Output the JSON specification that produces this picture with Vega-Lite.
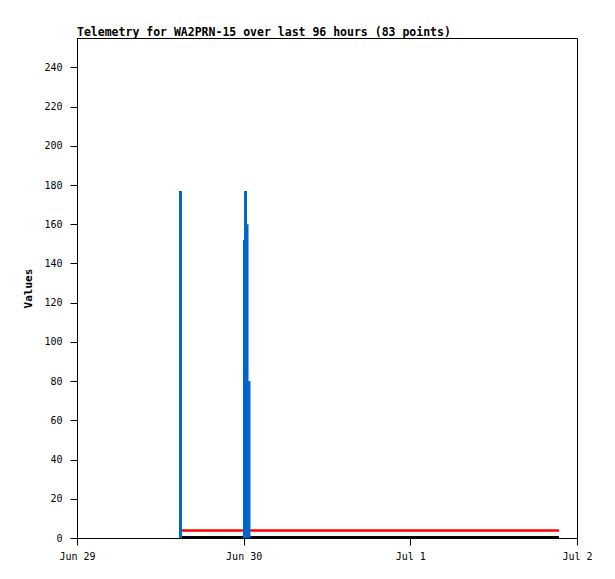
{
  "$schema": "https://vega.github.io/schema/vega-lite/v6.json",
  "autosize": "none",
  "width": 500,
  "height": 500,
  "padding": {"left": 77, "top": 38, "right": 38, "bottom": 41},
  "background": "white",
  "title": {
    "text": "Telemetry for WA2PRN-15 over last 96 hours (83 points)",
    "anchor": "start",
    "frame": "group",
    "font": "DejaVu Sans Mono",
    "fontSize": 11.5,
    "fontWeight": "bold",
    "color": "black",
    "offset": 0
  },
  "config": {
    "view": {"stroke": "black", "strokeWidth": 1},
    "axis": {
      "labelFont": "DejaVu Sans Mono",
      "labelFontSize": 10,
      "labelColor": "black",
      "titleFont": "DejaVu Sans Mono",
      "titleColor": "black",
      "domainColor": "black",
      "tickColor": "black",
      "grid": false
    }
  },
  "datasets": {
    "bars": [
      {"time": "2023-06-29T14:54:00Z", "value": 177},
      {"time": "2023-06-30T00:07:00Z", "value": 152},
      {"time": "2023-06-30T00:16:00Z", "value": 177},
      {"time": "2023-06-30T00:29:00Z", "value": 160},
      {"time": "2023-06-30T00:46:00Z", "value": 80}
    ],
    "lines": [
      {"series": "a", "time": "2023-06-29T15:07:00Z", "value": 3.8},
      {"series": "a", "time": "2023-07-01T21:24:00Z", "value": 3.8},
      {"series": "b", "time": "2023-06-29T15:07:00Z", "value": 0.4},
      {"series": "b", "time": "2023-07-01T21:24:00Z", "value": 0.4}
    ]
  },
  "encoding": {
    "x": {
      "field": "time", "type": "temporal",
      "scale": {"type": "utc", "domain": [1687996800000, 1688256000000]},
      "axis": {
        "title": null,
        "values": [1687996800000, 1688083200000, 1688169600000, 1688256000000],
        "labelExpr": "utcFormat(datum.value, '%b %-d')",
        "tickSize": 7, "labelPadding": 6, "labelFlush": false
      }
    },
    "y": {
      "field": "value", "type": "quantitative",
      "scale": {"domain": [0, 255], "nice": false},
      "axis": {
        "title": "Values",
        "titleFontSize": 11,
        "titleFontWeight": "bold",
        "titlePadding": 10,
        "values": [0, 20, 40, 60, 80, 100, 120, 140, 160, 180, 200, 220, 240],
        "tickSize": 7, "labelPadding": 8
      }
    }
  },
  "layer": [
    {
      "data": {"name": "lines"},
      "mark": {"type": "line", "strokeWidth": 2.5},
      "encoding": {
        "color": {
          "field": "series", "type": "nominal",
          "scale": {"domain": ["a", "b"], "range": ["#ff0000", "#000000"]},
          "legend": null
        }
      }
    },
    {
      "data": {"name": "bars"},
      "mark": {"type": "rule", "strokeWidth": 3, "color": "#0066cc"},
      "encoding": {
        "y2": {"datum": 0}
      }
    }
  ]
}
